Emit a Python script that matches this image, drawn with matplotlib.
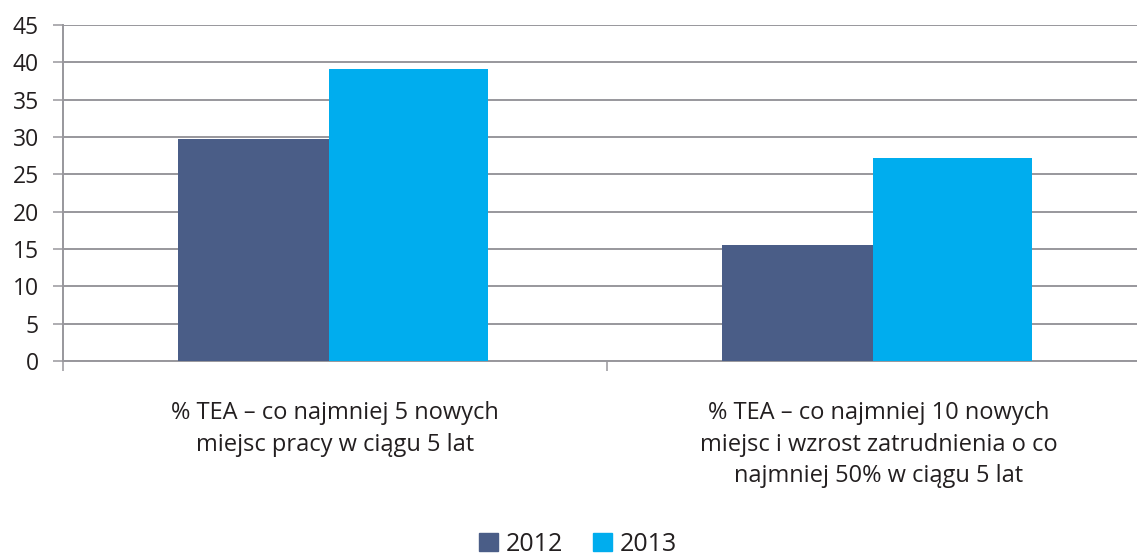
import matplotlib.pyplot as plt
import numpy as np
from matplotlib.patches import Patch
from matplotlib.transforms import blended_transform_factory

plt.rcParams['font.family'] = ['Open Sans', 'DejaVu Sans']

# Share of TEA entrepreneurs expecting growth, by year
categories = [
    "% TEA \u2013 co najmniej 5 nowych\nmiejsc pracy w ciągu 5 lat",
    "% TEA \u2013 co najmniej 10 nowych\nmiejsc i wzrost zatrudnienia o co\nnajmniej 50% w ciągu 5 lat",
]
years = ["2012", "2013"]
values_2012 = [29.7, 15.5]
values_2013 = [39.1, 27.2]

col_2012 = "#4A5D87"
col_2013 = "#00ADEE"
grid_col = "#98979C"
text_col = "#231F20"

fig = plt.figure(figsize=(11.37, 5.59), dpi=100)
ax = fig.add_axes([63 / 1137, (559 - 361) / 559, 1088 / 1137, 336 / 559])

x = np.arange(len(categories))
ax.bar(x - 0.289, values_2012, width=0.278, align="edge", color=col_2012, zorder=3)
ax.bar(x - 0.011, values_2013, width=0.292, align="edge", color=col_2013, zorder=3)

ax.set_xlim(-0.5, 1.5)
ax.set_ylim(0, 45)
ax.set_yticks(np.arange(0, 46, 5))
ax.yaxis.grid(True, color=grid_col, linewidth=1.4, zorder=0)
ax.tick_params(axis="y", length=7.5, width=1.1, color=grid_col,
               labelsize=16.5, labelcolor=text_col, pad=10)

# category separators below the axis
ax.set_xticks([])
ax.set_xticks([-0.5, 0.5, 1.5], minor=True)
ax.tick_params(axis="x", which="minor", length=7.5, width=1.1, color=grid_col)

for side in ["top", "right"]:
    ax.spines[side].set_visible(False)
for side in ["left", "bottom"]:
    ax.spines[side].set_color(grid_col)
    ax.spines[side].set_linewidth(1.4)

trans = blended_transform_factory(ax.transData, ax.transAxes)
for xi, label in zip(x, categories):
    ax.text(xi, -0.12, label, transform=trans, ha="center", va="top",
            fontsize=17, color=text_col, linespacing=1.42)

handles = [Patch(color=col_2012), Patch(color=col_2013)]
fig.legend(handles, years, loc="lower center", bbox_to_anchor=(578 / 1137, -0.036),
           ncol=2, frameon=False, fontsize=18, handlelength=0.75, handleheight=0.75,
           handletextpad=0.3, columnspacing=1.2, labelcolor=text_col)

fig.savefig("out.png", dpi=100)
